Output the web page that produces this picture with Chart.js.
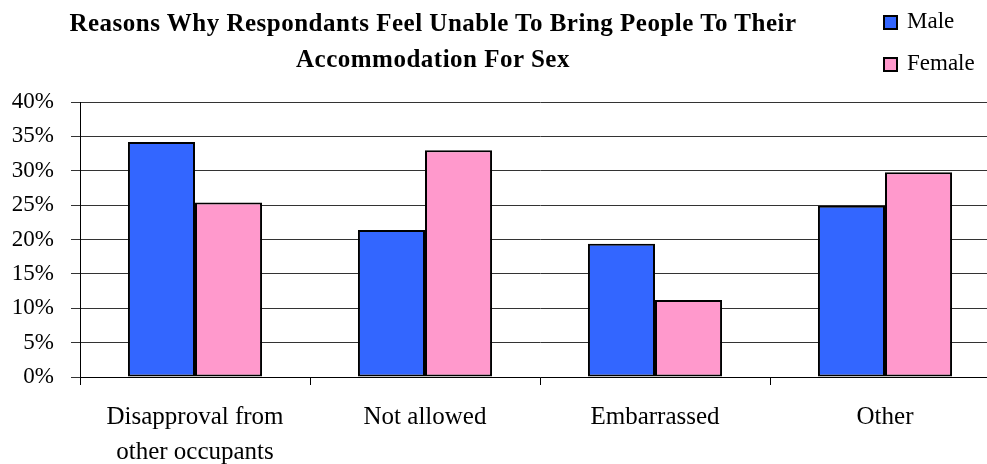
<!DOCTYPE html>
<html>
<head>
<meta charset="utf-8">
<script src="https://cdn.jsdelivr.net/npm/chart.js@4.4.1/dist/chart.umd.min.js"></script>
<style>
html,body{margin:0;padding:0;background:#fff;}
#wrap{position:relative;width:987px;height:464px;overflow:hidden;font-family:'Liberation Serif','Times New Roman',serif;color:#000;}
#chart{position:absolute;left:0;top:0;}
#title{position:absolute;left:0;top:5px;width:866px;text-align:center;font-weight:bold;font-size:25px;line-height:36px;letter-spacing:0.5px;}
.leg{position:absolute;left:883px;font-size:23px;line-height:26px;white-space:nowrap;}
.leg i{display:inline-block;width:11px;height:11px;border:2px solid #000;margin-right:9px;vertical-align:-2px;}
</style>
</head>
<body>
<div id="wrap">
  <!-- plot runs a little past the right edge, the wrapper clips it -->
  <canvas id="chart" width="1000" height="464"></canvas>
  <div id="title">Reasons Why Respondants Feel Unable To Bring People To Their<br>Accommodation For Sex</div>
  <div class="leg" style="top:8px"><i style="background:#3366ff"></i>Male</div>
  <div class="leg" style="top:50px"><i style="background:#ff99cc"></i>Female</div>
</div>
<script>
var categories=[['Disapproval from','other occupants'],'Not allowed','Embarrassed','Other'];
var maleVals=[34.2,21.4,19.4,24.9];
var femaleVals=[25.4,33.0,11.2,29.8];
var yTicks=[0,5,10,15,20,25,30,35,40];

var serif="'Liberation Serif','Times New Roman',serif";

new Chart(document.getElementById('chart'),{
  type:'bar',
  data:{
    labels:categories,
    datasets:[
      {label:'Male',data:maleVals,backgroundColor:'#3366ff',borderColor:'#000',borderWidth:2,borderSkipped:false,
        categoryPercentage:0.583,barPercentage:1},
      {label:'Female',data:femaleVals,backgroundColor:'#ff99cc',borderColor:'#000',borderWidth:2,borderSkipped:false,
        categoryPercentage:0.583,barPercentage:1}
    ]
  },
  options:{
    responsive:false,animation:false,
    layout:{padding:{left:0,top:102,right:0,bottom:0}},
    plugins:{legend:{display:false},title:{display:false},tooltip:{enabled:false}},
    scales:{
      x:{
        grid:{drawOnChartArea:false,offset:true,tickLength:8,color:'#000',lineWidth:1},
        border:{color:'#000',width:1},
        ticks:{color:'#000',font:{family:serif,size:25,lineHeight:1.4},padding:15,maxRotation:0,autoSkip:false},
        afterFit:function(s){s.height=87;}
      },
      y:{
        min:0,max:40,
        afterBuildTicks:function(s){s.ticks=yTicks.map(function(v){return {value:v};});},
        grid:{color:'#333',lineWidth:1,tickLength:9},
        border:{color:'#000',width:1},
        ticks:{color:'#000',font:{family:serif,size:23},padding:17,callback:function(v){return v+'%';}},
        afterFit:function(s){s.width=80;}
      }
    }
  }
});
</script>
</body>
</html>
